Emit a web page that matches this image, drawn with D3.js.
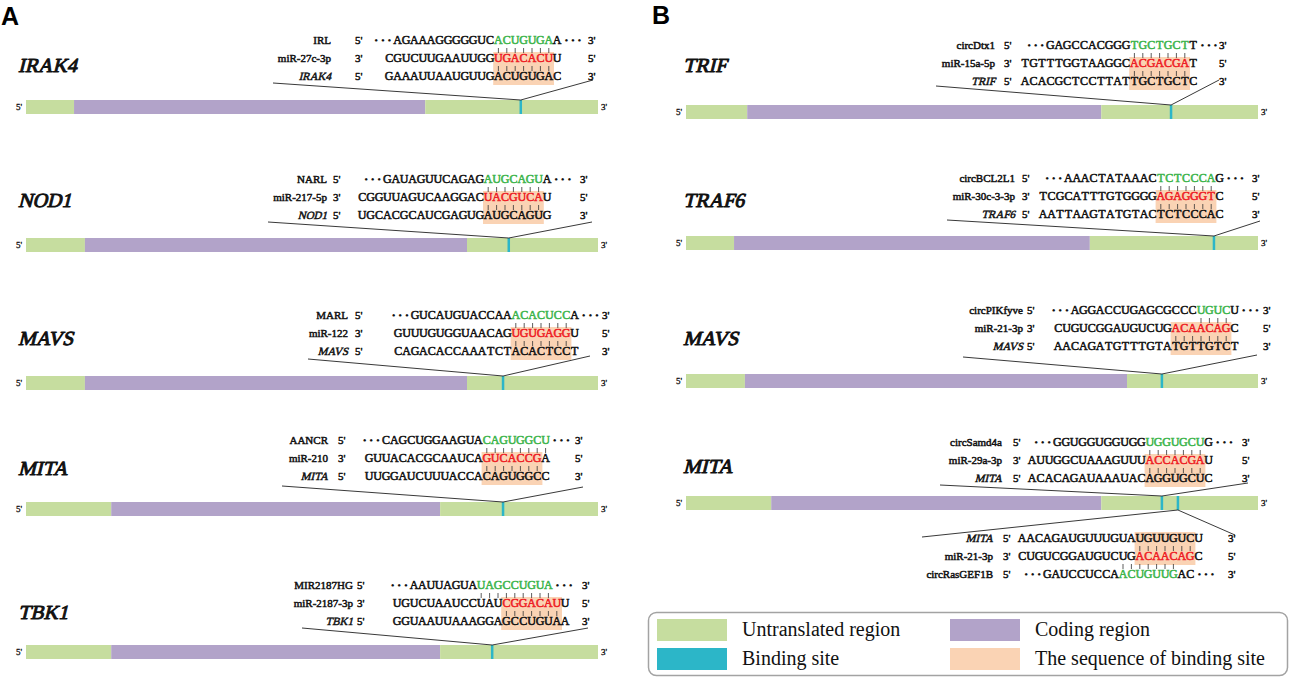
<!DOCTYPE html>
<html>
<head>
<meta charset="utf-8">
<script src="https://cdn.jsdelivr.net/npm/d3@7/dist/d3.min.js"></script>
<style>
    body { margin: 0; background: #fff; }
    text { font-family: "Liberation Serif", "Times New Roman", serif; font-weight: normal; }
</style>
</head>
<body>
<svg id="fig" width="1290" height="678"></svg>
<script>
// Genes, one transcript bar each
const genesA = ["IRAK4", "NOD1", "MAVS", "MITA", "TBK1"];
const genesB = ["TRIF", "TRAF6", "MAVS", "MITA"];

// Transcript structure in % of length: end of 5'UTR, end of CDS, binding sites
const utr5A = [8.4, 10.3, 10.3, 14.9, 14.9];
const cdsA = [69.8, 77.1, 77.1, 72.4, 72.4];
const sitesA = [[86.5], [84.4], [83.4], [83.4], [81.5]];
const utr5B = [10.7, 8.4, 10.3, 14.9];
const cdsB = [72.6, 70.6, 77.1, 72.6];
const sitesB = [[84.8], [92.3], [83.2], [83.2, 86.0]];

// Sponge RNA (lncRNA / circRNA) rows
const spongeNames = ["IRL", "NARL", "MARL", "AANCR", "MIR2187HG",
    "circDtx1", "circBCL2L1", "circPIKfyve", "circSamd4a", "circRasGEF1B"];
const spongeSeqs = ["AGAAAGGGGGUCACUGUGAA", "GAUAGUUCAGAGAUGCAGUA", "GUCAUGUACCAAACACUCCA",
    "CAGCUGGAAGUACAGUGGCU", "AAUUAGUAUAGCCUGUA", "GAGCCACGGGTGCTGCTT",
    "AAACTATAAACTCTCCCAG", "AGGACCUGAGCGCCCUGUCU", "GGUGGUGGUGGUGGUGCUG", "GAUCCUCCAACUGUUGAC"];
// [first paired base, count]
const spongeSite = [[12, 7], [12, 7], [12, 7], [12, 8], [8, 9], [10, 7], [11, 7], [15, 4], [11, 7], [9, 7]];
// columns the sponge row is shifted relative to the miRNA row
const spongeShift = [1, 3, 2, 2, 2, 3, 3, 2, 3, 3];

// miRNA rows (written 3' -> 5')
const mirNames = ["miR-27c-3p", "miR-217-5p", "miR-122", "miR-210", "miR-2187-3p",
    "miR-15a-5p", "miR-30c-3-3p", "miR-21-3p", "miR-29a-3p", "miR-21-3p"];
const mirSeqs = ["CGUCUUGAAUUGGUGACACUU", "CGGUUAGUCAAGGACUACGUCAU", "GUUUGUGGUAACAGUGUGAGGU",
    "GUUACACGCAAUCAGUCACCGA", "UGUCUAAUCCUAUCGGACAUU", "TGTTTGGTAAGGCACGACGAT",
    "TCGCATTTGTGGGGAGAGGGTC", "CUGUCGGAUGUCUGACAACAGC", "AUUGGCUAAAGUUUACCACGAU", "CUGUCGGAUGUCUGACAACAGC"];
const seedStart = [13, 15, 14, 14, 13, 13, 14, 14, 14, 14];
const seedLen = 7;

// Target mRNA rows
const targetNames = ["IRAK4", "NOD1", "MAVS", "MITA", "TBK1", "TRIF", "TRAF6", "MAVS", "MITA", "MITA"];
const targetSeqs = ["GAAAUUAAUGUUGACUGUGAC", "UGCACGCAUCGAGUGAUGCAGUG", "CAGACACCAAATCTACACTCCT",
    "UUGGAUCUUUACCACAGUGGCC", "GGUAAUUAAAGGAGCCUGUAA", "ACACGCTCCTTATTGCTGCTC",
    "AATTAAGTATGTACTCTCCCAC", "AACAGATGTTTGTATGTTGTCT", "ACACAGAUAAAUACAGGUGCUC", "AACAGAUGUUUGUAUGUUGUCU"];

// Legend
const legendLabels = ["Untranslated region", "Coding region", "Binding site", "The sequence of binding site"];

// ---- layout and style ----
const C_UTR = "#c6dd9f", C_CDS = "#b2a3c9", C_SITE = "#2cb6c8", C_SEQ = "#fad3b4";
const C_GREEN = "#3cb44b", C_RED = "#ee1c24", C_INK = "#111";
const legendColors = [C_UTR, C_CDS, C_SITE, C_SEQ];
const PITCH = 8.4, ROW = 18, BAR_H = 14;

const panels = {
    A: { genes: genesA, utr5: utr5A, cds: cdsA, sites: sitesA, x0: 26, x1: 598, labelX: 18,
        barY: [100, 238, 376, 502, 645], labelY: [72, 207, 345, 475, 619] },
    B: { genes: genesB, utr5: utr5B, cds: cdsB, sites: sitesB, x0: 686, x1: 1258, labelX: 683,
        barY: [105, 236, 374, 496], labelY: [72, 207, 345, 473] }
};

// where each alignment block sits
const blockLayout = [
    { p: "A", row: 0, site: 0, labelR: 331, endL: 355, seqX: 385, endR: 588, y: 44, cl: [273, 83], cr: [593, 80] },
    { p: "A", row: 1, site: 0, labelR: 327, endL: 333, seqX: 358, endR: 580, y: 183, cl: [268, 222], cr: [592, 222] },
    { p: "A", row: 2, site: 0, labelR: 348, endL: 355, seqX: 394, endR: 602, y: 319, cl: [308, 359], cr: [590, 356] },
    { p: "A", row: 3, site: 0, labelR: 328, endL: 338, seqX: 365, endR: 575, y: 444, cl: [282, 486], cr: [583, 487] },
    { p: "A", row: 4, site: 0, labelR: 353, endL: 357, seqX: 393, endR: 582, y: 589, cl: [302, 628], cr: [588, 628] },
    { p: "B", row: 0, site: 0, labelR: 995, endL: 1004, seqX: 1021, endR: 1219, y: 49, cl: [936, 86], cr: [1219, 80] },
    { p: "B", row: 1, site: 0, labelR: 1015, endL: 1022, seqX: 1039, endR: 1252, y: 182, cl: [947, 220], cr: [1260, 221] },
    { p: "B", row: 2, site: 0, labelR: 1023, endL: 1027, seqX: 1054, endR: 1263, y: 314, cl: [963, 357], cr: [1257, 355] },
    { p: "B", row: 3, site: 0, labelR: 1002, endL: 1013, seqX: 1028, endR: 1242, y: 446, cl: [940, 485], cr: [1248, 483] },
    { p: "B", row: 3, site: 1, labelR: 993, endL: 1003, seqX: 1018, endR: 1228, y: 542, cl: [922, 537], cr: [1235, 535], flip: true }
];

const svg = d3.select("#fig");

// bold serif faked with a thin stroke (keeps Times-like shapes)
const bold = (sel, w = 0.55) => sel.attr("stroke", function () { return d3.select(this).attr("fill") || C_INK; })
    .attr("stroke-width", w).attr("stroke-linejoin", "round");

// text drawn in a slanted group, for bold italic names
const slanted = (parent, x, y, str, size, anchor) => {
    const t = parent.append("g").attr("transform", `translate(${x},${y}) skewX(-14)`)
        .append("text").attr("fill", C_INK).attr("text-anchor", anchor || "start")
        .style("font-size", size + "px").text(str);
    bold(t, size > 15 ? 1.0 : 0.5);
    return t;
};

// Panel letters
svg.append("text").attr("x", 1).attr("y", 25).text("A")
    .style("font-family", "'Liberation Sans', Arial, sans-serif").style("font-weight", "bold").style("font-size", "25px");
svg.append("text").attr("x", 652).attr("y", 24).text("B")
    .style("font-family", "'Liberation Sans', Arial, sans-serif").style("font-weight", "bold").style("font-size", "25px");

// Transcript bars
Object.values(panels).forEach(P => {
    P.x = d3.scaleLinear().domain([0, 100]).range([P.x0, P.x1]);
    P.genes.forEach((g, i) => {
        const y = P.barY[i];
        const segs = [[0, P.utr5[i], C_UTR], [P.utr5[i], P.cds[i], C_CDS], [P.cds[i], 100, C_UTR]];
        const gr = svg.append("g");
        gr.selectAll("rect.seg").data(segs).join("rect")
            .attr("x", d => P.x(d[0])).attr("width", d => P.x(d[1]) - P.x(d[0]))
            .attr("y", y).attr("height", BAR_H).attr("fill", d => d[2]);
        gr.selectAll("rect.site").data(P.sites[i]).join("rect")
            .attr("x", d => P.x(d) - 1.25).attr("width", 2.5)
            .attr("y", y).attr("height", BAR_H).attr("fill", C_SITE);
        bold(gr.append("text").attr("x", P.x0 - 4).attr("y", y + 10).attr("text-anchor", "end")
            .attr("fill", C_INK).style("font-size", "9px").text("5'"), 0.3);
        bold(gr.append("text").attr("x", P.x1 + 3).attr("y", y + 10)
            .attr("fill", C_INK).style("font-size", "9px").text("3'"), 0.3);
        slanted(gr, P.labelX, P.labelY[i], g, 20);
    });
});

// Alignment blocks
blockLayout.forEach((L, i) => {
    const P = panels[L.p];
    const g = svg.append("g");
    const col = d3.scaleLinear().domain([0, 1]).range([L.seqX, L.seqX + PITCH]);

    let rows = [
        { name: spongeNames[i], seq: spongeSeqs[i], shift: spongeShift[i], hl: spongeSite[i],
            color: C_GREEN, ends: ["5'", "3'"], dots: true },
        { name: mirNames[i], seq: mirSeqs[i], shift: 0, hl: [seedStart[i], seedLen],
            color: C_RED, ends: ["3'", "5'"] },
        { name: targetNames[i], seq: targetSeqs[i], shift: 0, hl: null, ends: ["5'", "3'"], italic: true }
    ];
    if (L.flip) rows.reverse();
    rows.forEach((r, k) => r.y = L.y + k * ROW);
    const mir = rows[1], sponge = rows.find(r => r.dots), target = rows.find(r => r.italic);

    // connector lines from the binding site
    const sx = P.x(P.sites[L.row][L.site]);
    const sy = P.barY[L.row] + (L.flip ? BAR_H : 0);
    g.selectAll("line.con").data([L.cl, L.cr]).join("line")
        .attr("x1", d => d[0]).attr("y1", d => d[1]).attr("x2", sx).attr("y2", sy)
        .attr("stroke", "#222").attr("stroke-width", 0.9);

    // highlight of the binding sequence (miRNA + target)
    const yTop = Math.min(mir.y, target.y) - 10, yBot = Math.max(mir.y, target.y) + 5;
    g.append("rect")
        .attr("x", col(seedStart[i]) - 1).attr("width", col(seedStart[i] + seedLen) - col(seedStart[i]) + 2)
        .attr("y", yTop).attr("height", yBot - yTop).attr("fill", C_SEQ);

    // pairing ticks
    const pairs = (a, b, cols) => {
        const y1 = Math.min(a.y, b.y) + 4, y2 = Math.max(a.y, b.y) - 9;
        g.selectAll(null).data(cols).join("line")
            .attr("x1", c => col(c + 0.5)).attr("x2", c => col(c + 0.5))
            .attr("y1", y1).attr("y2", y2).attr("stroke", "#333").attr("stroke-width", 0.8);
    };
    pairs(sponge, mir, d3.range(spongeSite[i][0] + spongeShift[i], spongeSite[i][0] + spongeShift[i] + spongeSite[i][1]));
    pairs(mir, target, d3.range(seedStart[i], seedStart[i] + seedLen));

    rows.forEach(r => {
        if (r.italic) slanted(g, L.labelR, r.y, r.name, 11, "end");
        else bold(g.append("text").attr("x", L.labelR).attr("y", r.y).attr("text-anchor", "end")
            .attr("fill", C_INK).style("font-size", "11px").text(r.name), 0.5);
        bold(g.append("text").attr("x", L.endL).attr("y", r.y).attr("fill", C_INK)
            .style("font-size", "11px").text(r.ends[0]), 0.5);
        bold(g.append("text").attr("x", L.endR).attr("y", r.y).attr("fill", C_INK)
            .style("font-size", "11px").text(r.ends[1]), 0.5);
        const chars = r.seq.split("").map((ch, j) => ({ ch, j }));
        bold(g.selectAll(null).data(chars).join("text")
            .attr("x", d => col(r.shift + d.j + 0.5)).attr("y", r.y).attr("text-anchor", "middle")
            .style("font-size", "12px")
            .attr("fill", d => r.hl && d.j >= r.hl[0] && d.j < r.hl[0] + r.hl[1] ? r.color : C_INK)
            .text(d => d.ch), 0.55);
        if (r.dots) {
            g.append("text").attr("x", col(r.shift) - 2).attr("y", r.y).attr("text-anchor", "end")
                .attr("fill", C_INK).style("font-size", "11px").text("\u2022 \u2022 \u2022");
            g.append("text").attr("x", col(r.shift + r.seq.length) + 3).attr("y", r.y)
                .attr("fill", C_INK).style("font-size", "11px").text("\u2022 \u2022 \u2022");
        }
    });
});

// Legend
const lg = svg.append("g");
lg.append("rect").attr("x", 648.5).attr("y", 612.5).attr("width", 639).attr("height", 63)
    .attr("rx", 8).attr("fill", "none").attr("stroke", "#a3a3a3").attr("stroke-width", 1.5);
const item = lg.selectAll("g.item").data(legendLabels).join("g")
    .attr("transform", (d, i) => `translate(${i % 2 ? 950 : 657},${i < 2 ? 619 : 648})`);
item.append("rect").attr("width", 70).attr("height", 22).attr("fill", (d, i) => legendColors[i]);
item.append("text").attr("x", 85).attr("y", 17).attr("fill", C_INK).text(d => d)
    .style("font-size", "20px");
</script>
</body>
</html>
